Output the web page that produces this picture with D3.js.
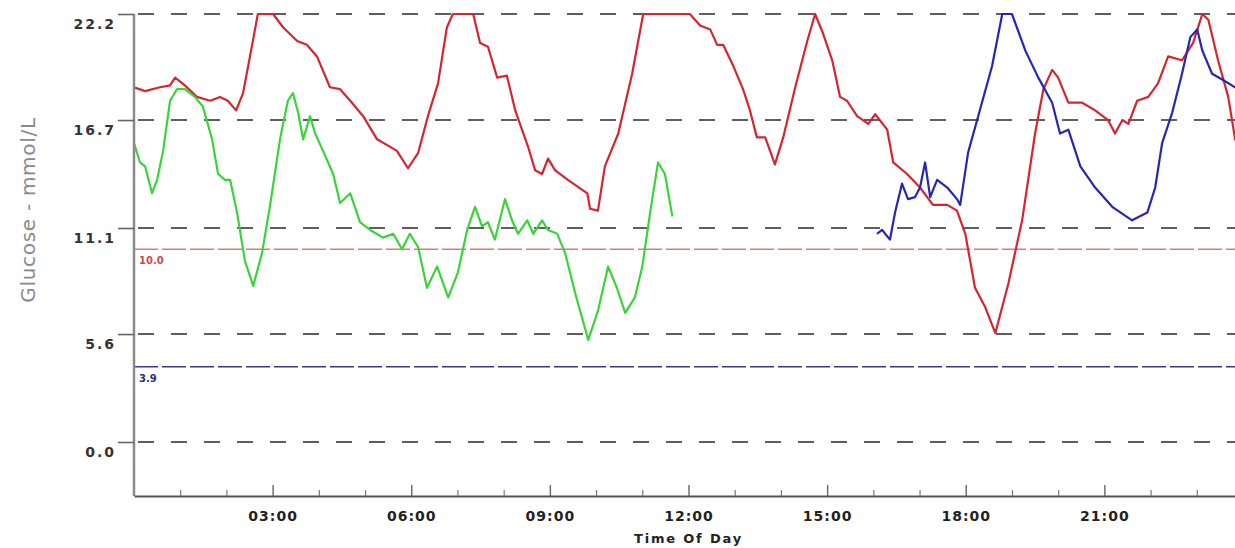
<!DOCTYPE html>
<html>
<head>
<meta charset="utf-8">
<script src="https://cdn.jsdelivr.net/npm/d3@7"></script>
<style>
  body { margin: 0; background: #fff; }
  svg { display: block; }
</style>
</head>
<body>
<svg id="chart" width="1235" height="548"></svg>
<script>
// hours of day, glucose mmol/L
const redSeries = [
  [0.00,18.4],[0.24,18.2],[0.56,18.4],[0.78,18.5],[0.89,18.9],[1.10,18.5],[1.36,17.9],[1.65,17.7],
  [1.86,17.9],[2.03,17.7],[2.21,17.2],[2.36,18.1],[2.51,20.0],[2.68,22.2],[3.01,22.2],[3.23,21.5],
  [3.53,20.8],[3.74,20.6],[3.96,20.0],[4.24,18.4],[4.46,18.3],[4.68,17.7],[4.96,16.9],[5.26,15.7],
  [5.48,15.4],[5.69,15.1],[5.93,14.2],[6.15,15.0],[6.36,16.9],[6.58,18.6],[6.77,21.5],[6.90,22.2],
  [7.34,22.2],[7.49,20.7],[7.66,20.5],[7.86,18.9],[8.07,19.0],[8.25,17.2],[8.53,15.3],[8.68,14.1],
  [8.83,13.9],[8.96,14.7],[9.11,14.1],[9.39,13.6],[9.81,12.9],[9.87,12.1],[10.04,12.0],[10.19,14.3],
  [10.48,16.0],[10.78,19.1],[11.02,22.2],[12.03,22.2],[12.25,21.6],[12.47,21.4],[12.62,20.6],[12.75,20.6],
  [12.97,19.5],[13.18,18.3],[13.33,17.2],[13.48,15.8],[13.66,15.8],[13.87,14.4],[14.05,15.8],[14.31,18.4],
  [14.57,20.8],[14.74,22.2],[14.91,21.2],[15.11,19.8],[15.28,17.9],[15.43,17.7],[15.65,16.9],[15.89,16.5],
  [16.04,17.0],[16.30,16.2],[16.43,14.5],[16.73,13.9],[17.01,13.2],[17.29,12.3],[17.60,12.3],[17.81,12.0],
  [17.99,10.8],[18.20,8.0],[18.42,7.0],[18.64,5.65],[18.92,8.2],[19.22,11.5],[19.50,16.0],[19.68,18.3],
  [19.87,19.3],[20.00,18.9],[20.22,17.6],[20.52,17.6],[20.80,17.2],[21.08,16.7],[21.23,16.0],[21.39,16.7],
  [21.52,16.5],[21.71,17.7],[21.95,17.9],[22.16,18.6],[22.38,20.0],[22.68,19.8],[22.92,20.7],[23.12,22.2],
  [23.25,21.9],[23.46,19.8],[23.68,17.9],[23.83,15.7],[24.00,15.0]
];
const greenSeries = [
  [0.00,15.5],[0.13,14.5],[0.24,14.3],[0.39,12.9],[0.50,13.6],[0.63,15.1],[0.78,17.7],[0.93,18.3],
  [1.10,18.3],[1.32,17.9],[1.49,17.4],[1.69,15.7],[1.82,13.9],[1.97,13.6],[2.08,13.6],[2.23,11.9],
  [2.40,9.4],[2.58,8.1],[2.77,9.8],[2.94,12.2],[3.16,15.7],[3.33,17.7],[3.44,18.1],[3.55,17.1],
  [3.66,15.7],[3.81,16.9],[3.92,16.0],[4.09,15.1],[4.31,13.9],[4.46,12.4],[4.68,12.9],[4.89,11.4],
  [5.11,11.0],[5.39,10.6],[5.61,10.8],[5.80,10.0],[5.97,10.8],[6.15,10.1],[6.34,8.0],[6.56,9.1],
  [6.80,7.5],[7.01,8.8],[7.21,11.0],[7.38,12.2],[7.53,11.2],[7.66,11.4],[7.81,10.5],[8.03,12.6],
  [8.18,11.5],[8.31,10.8],[8.51,11.5],[8.64,10.8],[8.83,11.5],[8.96,11.0],[9.16,10.8],[9.33,9.8],
  [9.55,7.7],[9.83,5.3],[10.04,6.8],[10.26,9.1],[10.45,8.0],[10.63,6.7],[10.84,7.5],[11.00,9.1],
  [11.17,11.9],[11.34,14.5],[11.49,13.9],[11.65,11.7]
];
const blueSeries = [
  [16.08,10.8],[16.19,11.0],[16.36,10.5],[16.47,11.9],[16.62,13.4],[16.75,12.6],[16.90,12.7],[17.01,13.2],
  [17.12,14.5],[17.23,12.7],[17.38,13.6],[17.60,13.2],[17.81,12.6],[17.88,12.3],[18.05,15.0],[18.35,17.6],
  [18.57,19.5],[18.79,22.2],[19.00,22.2],[19.29,20.3],[19.57,18.9],[19.87,17.6],[20.04,16.0],[20.22,16.2],
  [20.48,14.3],[20.80,13.2],[21.17,12.2],[21.60,11.5],[21.93,11.9],[22.10,13.2],[22.25,15.5],[22.47,17.1],
  [22.68,19.1],[22.86,21.0],[23.01,21.4],[23.12,20.3],[23.33,19.1],[23.55,18.8],[23.83,18.4],[24.00,18.2]
];
const yTickValues = [0.0, 5.6, 11.1, 16.7, 22.2];
const majorHours = [3, 6, 9, 12, 15, 18, 21];
const minorHours = [1, 2, 4, 5, 7, 8, 10, 11, 13, 14, 16, 17, 19, 20, 22, 23];
const limitValues = [10.0, 3.9];
const limitLabels = ["10.0", "3.9"];

const svg = d3.select("#chart");
const plotLeft = 134, plotRight = 1243, plotTop = 14, plotBottom = 496;

const x = d3.scaleLinear().domain([0, 24]).range([plotLeft, plotRight]);
const y = d3.scaleLinear().domain([-2.8, 22.2]).range([plotBottom, plotTop]);

svg.append("defs").append("clipPath").attr("id", "plot")
  .append("rect").attr("x", plotLeft).attr("y", 0).attr("width", plotRight - plotLeft).attr("height", plotBottom);

// dashed grid
svg.append("g").selectAll("line").data(yTickValues).enter().append("line")
  .attr("x1", plotLeft + 4).attr("x2", plotRight)
  .attr("y1", d => y(d)).attr("y2", d => y(d))
  .attr("stroke", "#2a2a2a").attr("stroke-width", 1.6)
  .attr("stroke-dasharray", "16,17");

// limit lines
const limitColors = ["#e07a7a", "#3a3a8c"];
const limits = svg.append("g");
limits.selectAll("line").data(limitValues).enter().append("line")
  .attr("x1", plotLeft).attr("x2", plotRight)
  .attr("y1", d => y(d)).attr("y2", d => y(d))
  .attr("stroke", (d, i) => limitColors[i]).attr("stroke-width", 1.4)
  .attr("stroke-dasharray", "24,4");
limits.selectAll("text").data(limitValues).enter().append("text")
  .attr("x", plotLeft + 5).attr("y", d => y(d) + 15)
  .attr("fill", (d, i) => i == 0 ? "#d04848" : "#2a2a88")
  .attr("font-family", "DejaVu Sans").attr("font-weight", "bold").attr("font-size", 10)
  .text((d, i) => limitLabels[i]);

// series
const line = d3.line().x(d => x(d[0])).y(d => y(d[1]));
const plot = svg.append("g").attr("clip-path", "url(#plot)");
[[redSeries, "#d42630"], [greenSeries, "#3ad43a"], [blueSeries, "#2626b0"]].forEach(function (s) {
  plot.append("path").datum(s[0])
    .attr("fill", "none").attr("stroke", s[1]).attr("stroke-width", 2.2)
    .attr("stroke-linejoin", "round")
    .attr("d", line);
});

// y axis
const yAxis = svg.append("g").attr("transform", "translate(" + plotLeft + ",0)")
  .call(d3.axisLeft(y).tickValues(yTickValues).tickSize(16).tickSizeOuter(0).tickFormat(d3.format(".1f")));
yAxis.select(".domain").attr("stroke", "#8a8a8a").attr("stroke-width", 2.5).attr("d", "M0," + plotTop + "V" + plotBottom);
yAxis.selectAll(".tick line").attr("stroke", "#666").attr("stroke-width", 1.6);
yAxis.selectAll(".tick text")
  .attr("x", -18).attr("dy", "1.05em")
  .attr("fill", "#333").attr("font-family", "DejaVu Sans").attr("font-weight", "bold")
  .attr("font-size", 14).attr("letter-spacing", 2);

// x axis
const fmt = h => d3.format("02")(h) + ":00";
const xAxis = svg.append("g").attr("transform", "translate(0," + plotBottom + ")")
  .call(d3.axisBottom(x).tickValues(majorHours).tickSize(-11).tickSizeOuter(0).tickPadding(15).tickFormat(fmt));
xAxis.select(".domain").attr("stroke", "#555").attr("stroke-width", 2);
xAxis.selectAll(".tick line").attr("stroke", "#666").attr("stroke-width", 1.4);
xAxis.selectAll(".tick text")
  .attr("fill", "#222").attr("font-family", "DejaVu Sans").attr("font-weight", "bold")
  .attr("font-size", 14).attr("letter-spacing", 1);

const xMinor = svg.append("g").attr("transform", "translate(0," + plotBottom + ")")
  .call(d3.axisBottom(x).tickValues(minorHours).tickSize(-6).tickFormat(""));
xMinor.select(".domain").remove();
xMinor.selectAll(".tick line").attr("stroke", "#777").attr("stroke-width", 1.2);

// axis titles
svg.append("text")
  .attr("x", x(12)).attr("y", 543).attr("text-anchor", "middle")
  .attr("fill", "#222").attr("font-family", "DejaVu Sans").attr("font-weight", "bold")
  .attr("font-size", 13).attr("letter-spacing", 1.8)
  .text("Time Of Day");

svg.append("text")
  .attr("transform", "translate(35,210) rotate(-90)")
  .attr("text-anchor", "middle")
  .attr("fill", "#8a8a8a").attr("font-family", "DejaVu Sans")
  .attr("font-size", 20).attr("letter-spacing", 0.7)
  .text("Glucose - mmol/L");
</script>
</body>
</html>
